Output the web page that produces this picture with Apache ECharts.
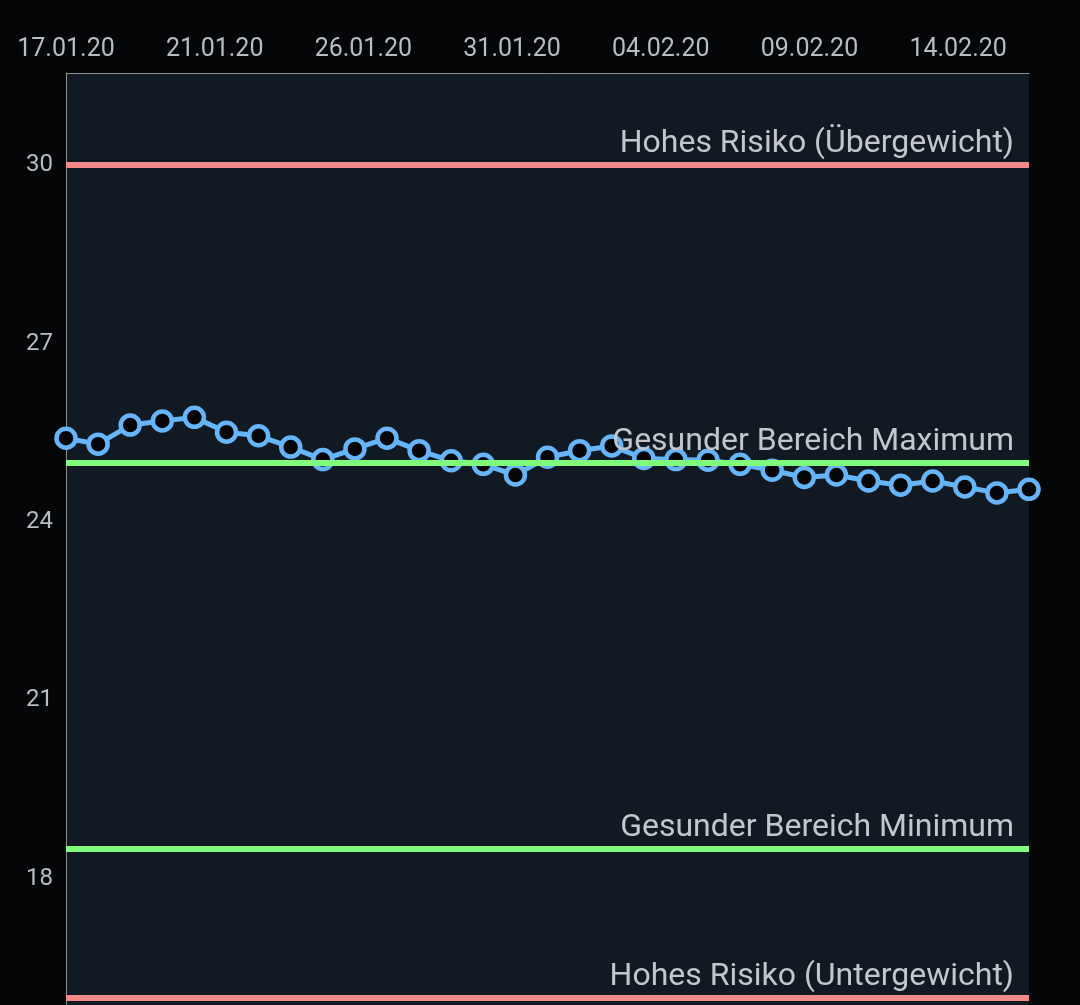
<!DOCTYPE html>
<html>
<head>
<meta charset="utf-8">
<script src="https://cdn.jsdelivr.net/npm/echarts@6/dist/echarts.min.js"></script>
<style>
html,body{margin:0;padding:0;background:#040507;}
#c{width:1080px;height:1005px;}
</style>
</head>
<body>
<div id="c"></div>
<script>
const dates = ['17.01.20','18.01.20','19.01.20','20.01.20','21.01.20','22.01.20','23.01.20','24.01.20','25.01.20','26.01.20','27.01.20','28.01.20','29.01.20','30.01.20','31.01.20','01.02.20','02.02.20','03.02.20','04.02.20','05.02.20','06.02.20','07.02.20','08.02.20','09.02.20','10.02.20','11.02.20','12.02.20','13.02.20','14.02.20','15.02.20','16.02.20'];
const bmi = [25.41,25.31,25.63,25.70,25.76,25.51,25.45,25.26,25.05,25.23,25.41,25.20,25.03,24.97,24.79,25.09,25.20,25.28,25.07,25.05,25.04,24.97,24.87,24.75,24.79,24.69,24.62,24.69,24.59,24.49,24.55];
const xTickLabels = ['17.01.20','21.01.20','26.01.20','31.01.20','04.02.20','09.02.20','14.02.20'];
const yTickValues = [18,21,24,27,30];
const limitNames = ['Hohes Risiko (Übergewicht)','Gesunder Bereich Maximum','Gesunder Bereich Minimum','Hohes Risiko (Untergewicht)'];
const limitValues = [30,25,18.5,16];
const limitColors = ['#f28a8a','#80fc7c','#80fc7c','#f28a8a'];

const xInterval = 4.632;
const chart = echarts.init(document.getElementById('c'));
chart.setOption({
  backgroundColor:'#040507',
  animation:false,
  grid:{left:66,right:51,top:73,bottom:0,show:true,backgroundColor:'#111a22',borderWidth:0},
  xAxis:{
    type:'value',position:'top',min:0,max:dates.length-1,interval:xInterval,
    axisLine:{show:true,lineStyle:{color:'#8e8e8e',width:1}},
    axisTick:{show:false},splitLine:{show:false},
    axisLabel:{showMaxLabel:false,color:'#b9bcc0',fontFamily:'Roboto',fontSize:25,margin:11,
      formatter:function(v){const k=Math.round(v/xInterval);return xTickLabels[k]||'';}}
  },
  yAxis:{
    type:'value',min:15.88,max:31.55,
    axisLine:{show:true,lineStyle:{color:'#8e8e8e',width:1}},
    axisTick:{show:false},splitLine:{show:false},
    axisLabel:{customValues:yTickValues,color:'#b9bcc0',fontFamily:'Roboto',fontSize:24,margin:13}
  },
  series:[
    {
      type:'line',z:2,
      data:bmi.map((v,i)=>[i,v]),
      symbol:'circle',symbolSize:19,
      lineStyle:{color:'#66b5fa',width:5},
      itemStyle:{color:'#040507',borderColor:'#66b5fa',borderWidth:4.5}
    },
    {
      type:'line',z:5,data:[],
      markLine:{
        silent:true,symbol:'none',
        data:limitValues.map((v,i)=>({yAxis:v,name:limitNames[i],lineStyle:{color:limitColors[i],width:6,type:'solid'}})),
        label:{show:true,position:'insideEndTop',formatter:'{b}',color:'#c3c6ca',fontFamily:'Roboto',fontSize:32,distance:[15,5]}
      }
    }
  ]
});
</script>
</body>
</html>
